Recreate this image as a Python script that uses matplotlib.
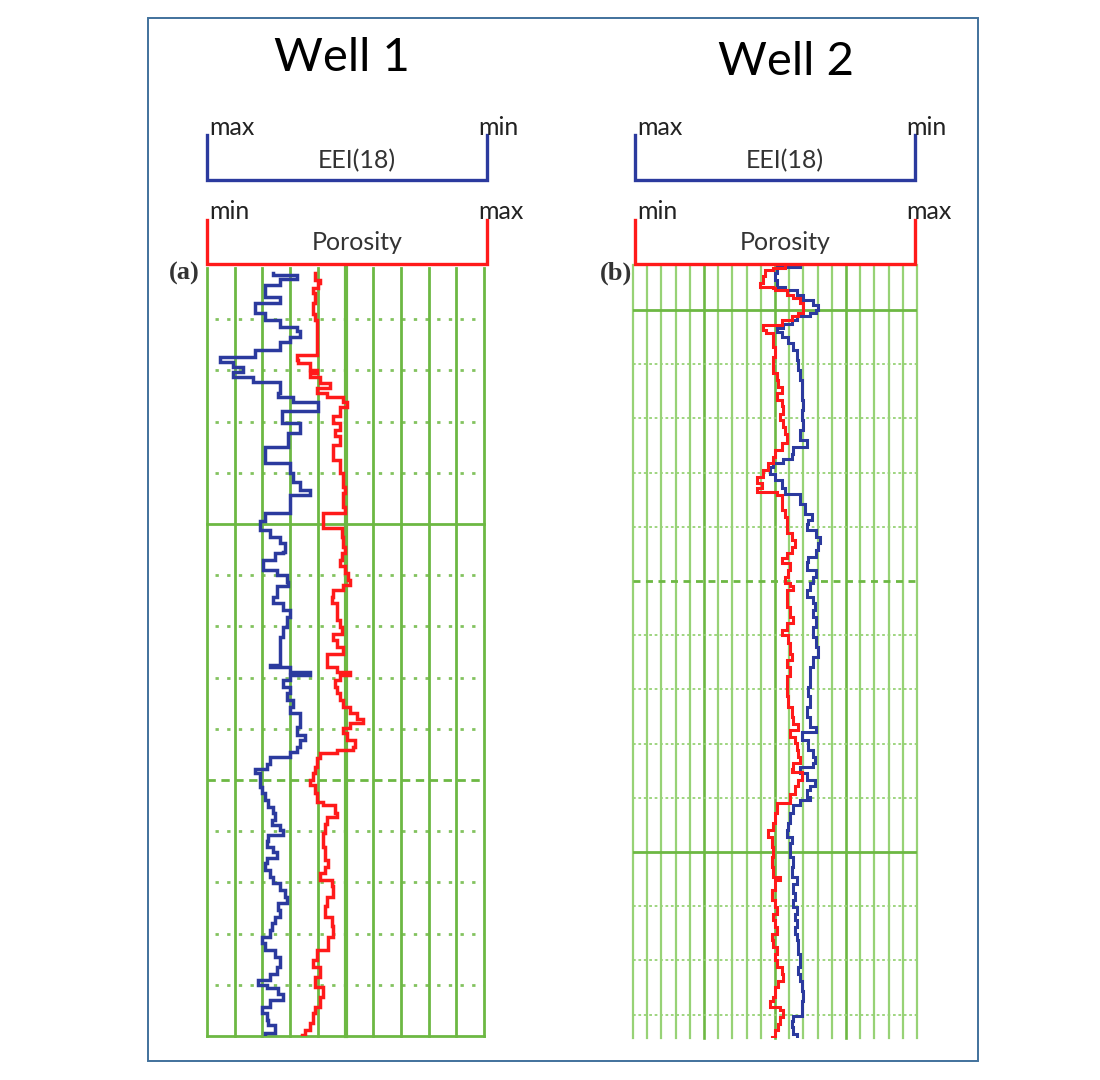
import matplotlib
matplotlib.use("Agg")
import matplotlib.pyplot as plt
from matplotlib.lines import Line2D
from matplotlib.patches import Rectangle

# ---------------- data (track units: value 0-100 across track, depth in grid units) ----------
well1_eei_depth = [0.9, 1.4, 2.1, 3.3, 5.6, 6.8, 8.8, 10.2, 11.5, 12.4, 13.4, 14.4, 16.0, 17.3, 18.3,
                   19.3, 20.3, 21.3, 22.2, 24.5, 25.1, 26.1, 28.0, 30.3, 32.3, 34.9, 38.1, 40.1, 41.7,
                   43.4, 44.3, 47.9, 49.5,
                   51.2, 52.5, 53.8, 55.4, 55.7, 57.0, 59.0, 60.0, 61.3, 62.2, 64.2, 65.5, 66.8, 68.1,
                   70.1, 72.0, 77.6, 77.9, 78.9, 79.5, 80.5, 81.8, 83.1, 84.4, 85.7, 87.0, 89.6, 91.2,
                   92.2, 93.5, 94.5, 95.5, 96.8, 97.8, 98.7, 101.3,
                   102.6, 103.9, 105.2, 106.5, 107.8, 108.8, 109.8, 110.7, 112.0, 113.0, 114.0, 115.3,
                   116.3, 117.6, 118.9, 120.2, 121.5, 122.8, 124.1, 125.4, 126.7, 128.0, 129.3, 130.6,
                   131.9, 133.2, 134.5, 136.5, 137.8, 139.1, 140.0, 140.7, 141.7, 143.0, 144.3, 145.6,
                   146.9, 147.9, 149.5]
well1_eei = [23.9, 32.4, 26.4, 20.9, 26.4, 17.3, 20.9, 26.4, 32.4, 33.6, 30.0, 26.4, 17.3, 4.7, 9.5,
             13.1, 9.5, 16.7, 26.4, 25.7, 31.2, 40.2, 27.0, 33.6, 29.4, 20.9, 30.0, 31.2, 33.6,
             37.2, 30.0, 20.9, 19.1,
             22.7, 26.4, 28.2, 27.6, 24.5, 20.3, 25.1, 28.8, 29.4, 25.1, 23.9, 27.6, 30.0, 28.8,
             27.6, 26.4, 22.7, 30.0, 37.2, 30.0, 27.6, 30.0, 28.8, 31.2, 30.0, 33.6, 32.4, 35.4,
             33.6, 32.4, 30.0, 22.7, 21.5, 17.3, 19.1, 19.7,
             20.9, 22.1, 23.9, 24.5, 23.3, 26.4, 27.6, 22.1, 21.5, 23.9, 25.1, 21.5,
             20.9, 22.7, 23.9, 26.4, 28.2, 28.8, 25.7, 26.4, 24.5, 23.3, 22.7, 19.7,
             20.9, 24.5, 26.4, 25.1, 22.7, 18.5, 21.5, 25.7, 27.6, 22.7, 19.7, 21.5,
             22.1, 24.5, 20.9]

well1_por_depth = [0.9, 2.3, 3.0, 4.0, 4.9, 6.9, 8.9, 10.2, 17.0, 18.0, 18.6, 19.9, 20.6, 21.2, 22.5,
                   23.5, 24.5, 25.1, 26.1, 27.1, 29.0, 30.3, 31.6, 32.9, 34.6, 37.5, 40.1, 42.7, 44.0,
                   46.6, 47.9,
                   50.7, 52.5, 54.4, 55.7, 57.0, 58.3, 59.6, 60.9, 61.9, 62.9, 64.2, 65.5, 68.8, 70.1,
                   71.4, 72.7, 74.0, 75.3, 77.9, 78.9, 79.5, 80.5, 81.8, 83.1, 84.4, 85.7, 87.0, 88.0,
                   88.9, 89.9, 90.9, 92.2, 93.5, 94.2, 94.8, 95.8, 97.4, 98.7, 100.0, 101.0,
                   102.6, 104.2, 104.9, 106.5, 107.2, 108.5, 110.4, 113.0, 115.6, 116.9, 118.2, 119.5,
                   120.8, 122.8, 124.7, 126.7, 128.6, 130.6, 133.2, 135.2, 136.5, 138.4, 140.4, 142.3,
                   144.3, 145.6, 147.5, 148.8, 149.8]
well1_por = [39.0, 40.8, 40.2, 38.4, 39.0, 38.4, 39.0, 39.6, 32.4, 33.0, 37.2, 39.6, 37.2, 40.8, 44.4,
             39.6, 43.2, 49.2, 50.4, 48.0, 45.6, 48.0, 46.2, 48.0, 45.6, 48.0, 49.2, 49.8, 49.2,
             49.8, 42.0,
             48.6, 49.2, 49.8, 48.6, 48.0, 49.8, 51.0, 51.6, 49.2, 45.6, 45.0, 46.8, 48.0, 48.6,
             45.6, 46.8, 49.2, 43.2, 46.8, 51.6, 48.0, 46.2, 46.8, 48.0, 49.2, 51.6, 54.0, 56.4,
             51.6, 49.2, 50.4, 53.4, 52.8, 46.8, 40.8, 39.6, 39.0, 38.4, 37.2, 39.0,
             39.6, 42.0, 46.2, 46.8, 43.2, 42.6, 42.0, 42.6, 43.8, 42.6, 40.8, 45.0,
             45.6, 43.2, 42.6, 45.0, 45.6, 43.8, 39.6, 38.4, 40.8, 39.0, 42.0, 40.8,
             39.0, 38.4, 37.2, 35.4, 34.2]

well2_eei_depth = [1.7, 2.0, 3.2, 4.5, 5.7, 6.3, 7.2, 8.2, 9.1, 10.0, 10.6, 11.2, 11.8, 12.5, 13.4,
                   14.0, 14.9, 16.1, 17.4, 19.2, 21.1, 23.0, 24.8, 26.6, 28.5, 30.3, 32.2, 34.0, 35.2,
                   36.5, 37.4, 38.3, 38.9, 40.2, 41.4, 42.9, 43.9, 45.7, 47.6, 48.8,
                   49.4, 50.6, 51.8, 53.0, 54.3, 55.5, 56.4, 57.9, 59.2, 60.4, 61.6, 62.9, 64.1, 65.3,
                   66.6, 68.4, 70.3, 72.1, 74.0, 75.8, 77.6, 79.5, 81.3, 83.2, 85.0, 86.9, 87.8, 89.3,
                   91.2, 92.4, 93.6, 94.3, 95.5, 96.7, 97.9,
                   98.6, 99.8, 100.4, 101.3, 102.8, 104.7, 105.9, 107.2, 108.4, 110.9, 112.7, 114.6,
                   115.8, 117.6, 118.9, 120.1, 121.4, 122.6, 123.8, 125.1, 126.3, 128.8, 131.2, 132.5,
                   133.7, 135.6, 137.4, 140.2, 141.1, 142.3, 143.6]
well2_eei = [58.8, 50.6, 50.0, 50.6, 53.5, 57.6, 59.9, 63.4, 65.1, 64.6, 62.2, 57.6, 55.9, 52.9, 50.6,
             52.3, 54.7, 56.5, 57.6, 58.2, 58.8, 59.4, 59.4, 59.9, 59.4, 59.9, 58.8, 61.1, 56.5,
             55.9, 52.9, 49.4, 48.2, 50.0, 52.3, 53.5, 58.8, 60.6, 62.9, 61.7,
             61.1, 64.6, 65.7, 65.1, 64.6, 61.7, 61.1, 64.6, 63.4, 62.2, 61.1, 63.4, 64.0, 63.4,
             64.6, 63.4, 64.6, 65.1, 63.4, 62.2, 62.2, 61.7, 62.2, 61.1, 62.2, 64.6, 59.4, 61.7,
             63.4, 64.0, 63.4, 58.8, 61.1, 64.0, 62.2,
             61.1, 62.2, 58.8, 56.5, 55.4, 54.7, 54.1, 55.9, 55.4, 56.5, 55.9, 57.6,
             56.5, 57.0, 56.5, 57.6, 57.0, 57.6, 57.0, 57.6, 58.2, 58.8, 58.2, 58.8,
             59.4, 59.9, 59.4, 56.5, 55.9, 56.5, 57.6]

well2_por_depth = [1.7, 2.3, 2.6, 3.8, 5.0, 5.7, 6.0, 6.3, 7.2, 7.8, 8.8, 10.6, 11.2, 11.8, 12.8,
                   13.7, 14.3, 16.8, 18.7, 21.7, 23.0, 24.2, 25.4, 26.6, 27.8, 29.1, 30.3, 31.5, 32.8,
                   34.6, 35.8, 37.1, 38.3, 39.5, 40.8, 42.0, 42.9, 43.5, 44.1, 46.9, 48.1,
                   49.9, 51.2, 52.4, 53.7, 54.9, 55.8, 56.7, 57.9, 59.2, 60.4, 61.0, 61.6, 64.7, 66.6,
                   67.8, 69.0, 69.9, 71.5, 73.4, 74.6, 75.8, 77.6, 81.3, 83.2, 85.0, 86.3, 87.5, 88.7,
                   89.9, 91.2, 92.4, 93.6, 94.6, 95.2, 96.7, 97.9, 99.2,
                   101.0, 102.8, 104.7, 105.9, 107.2, 109.0, 110.9, 112.7, 114.6, 115.2, 117.0, 118.9,
                   120.1, 121.4, 122.6, 123.8, 125.1, 126.3, 127.5, 128.8, 130.0, 131.2, 132.5, 133.7,
                   134.9, 136.8, 137.4, 138.6, 139.2, 140.5, 141.7, 142.9, 144.2]
well2_por = [53.5, 49.4, 46.5, 45.9, 44.7, 49.4, 50.0, 54.1, 56.5, 58.8, 59.9, 58.2, 55.9, 52.3, 45.9,
             47.0, 49.4, 50.0, 49.4, 50.6, 51.2, 52.3, 50.6, 52.3, 52.9, 51.8, 52.9, 53.5, 54.1,
             52.3, 50.0, 49.4, 47.6, 45.9, 43.5, 45.3, 43.5, 50.6, 52.3, 53.5, 54.1,
             54.1, 55.9, 57.0, 55.9, 54.1, 52.3, 55.4, 54.7, 53.5, 55.4, 56.5, 54.1, 55.4, 56.5,
             54.1, 52.3, 54.7, 55.4, 55.9, 54.1, 55.4, 54.1, 54.7, 55.9, 56.5, 58.2, 55.4, 57.0,
             57.6, 58.2, 58.8, 56.5, 55.9, 59.4, 58.2, 57.0, 55.4,
             50.6, 50.0, 49.4, 47.6, 48.8, 49.4, 48.8, 49.4, 51.8, 50.0, 48.8, 50.0,
             50.6, 49.4, 50.0, 50.6, 48.8, 49.4, 50.6, 50.0, 50.6, 52.3, 52.9, 51.2,
             50.0, 49.4, 48.2, 51.8, 52.9, 51.8, 51.2, 50.0, 48.8]

titles = ["Well 1", "Well 2"]
panel_labels = ["(a)", "(b)"]
eei_label = "EEI(18)"
por_label = "Porosity"

# ---------------- styling ----------------
W, H = 1100, 1080
BLUE = "#2b3a9e"
RED = "#ff1a1a"
GREEN = "#6db843"
GREEN_LIGHT = "#97d276"
FRAME = "#41719c"
FONT = ["Lato", "DejaVu Sans"]


def fx(x):
    return x / W


def fy(y):
    return 1 - y / H


def stairs(depth, vals, end):
    xs, ys = [], []
    for i, (d, v) in enumerate(zip(depth, vals)):
        nxt = depth[i + 1] if i + 1 < len(depth) else end
        xs += [v, v]
        ys += [d, nxt]
    return xs, ys


fig = plt.figure(figsize=(11, 10.8), dpi=100)
fig.patch.set_facecolor("white")

# outer frame
fig.add_artist(Rectangle((fx(148), fy(1061)), fx(978) - fx(148), fy(18) - fy(1061),
                         transform=fig.transFigure, fill=False, ec=FRAME, lw=1.4))

# ---------------- Well 1 track ----------------
l1, r1, t1, b1 = 207, 484, 268, 1036
ax1 = fig.add_axes([fx(l1), fy(b1), fx(r1) - fx(l1), fy(t1) - fy(b1)])
ax1.set_xlim(0, 100)
ax1.set_ylim(150, 0)
ax1.set_axis_off()
for v in range(0, 101, 10):
    ax1.axvline(v, color=GREEN, lw=3.0 if v == 50 else 2.0, zorder=1, clip_on=False)
for d in range(10, 151, 10):
    if d == 50 or d == 150:
        ax1.axhline(d, color=GREEN, lw=2.0, zorder=1, clip_on=False)
    elif d == 100:
        ax1.axhline(d, color=GREEN, lw=2.0, ls=(0, (3, 2)), zorder=1)
    else:
        ax1.plot([3, 100], [d, d], color=GREEN, lw=2.0, ls=(0, (1.2, 3.0)), zorder=1, alpha=0.85)
x, y = stairs(well1_eei_depth, well1_eei, 150)
ax1.plot(x, y, color=BLUE, lw=2.5, zorder=3, solid_joinstyle="miter")
x, y = stairs(well1_por_depth, well1_por, 150)
ax1.plot(x, y, color=RED, lw=2.5, zorder=3, solid_joinstyle="miter")

# ---------------- Well 2 track ----------------
l2, r2, t2, b2 = 633, 917, 265, 1038
ax2 = fig.add_axes([fx(l2), fy(b2), fx(r2) - fx(l2), fy(t2) - fy(b2)])
ax2.set_xlim(0, 100)
ax2.set_ylim(144.3, 1.7)
ax2.set_axis_off()
for v in range(0, 101, 5):
    heavy = v in (25, 50, 75)
    ax2.axvline(v, color=GREEN if heavy else GREEN_LIGHT, lw=1.9 if heavy else 1.6, zorder=1,
                clip_on=False)
for d in range(10, 141, 10):
    if d in (10, 110):
        ax2.axhline(d, color=GREEN, lw=2.0, zorder=1)
    elif d == 60:
        ax2.axhline(d, color=GREEN, lw=2.0, ls=(0, (2.5, 2)), zorder=1)
    else:
        ax2.axhline(d, color=GREEN_LIGHT, lw=1.3, ls=(0, (1.5, 1.5)), zorder=1)
x, y = stairs(well2_eei_depth, well2_eei, 144.3)
ax2.plot(x, y, color=BLUE, lw=2.2, zorder=3, solid_joinstyle="miter")
x, y = stairs(well2_por_depth, well2_por, 144.3)
ax2.plot(x, y, color=RED, lw=2.2, zorder=3, solid_joinstyle="miter")

# ---------------- headers ----------------
headers = [
    dict(left=207, right=487, title_x=342, title_y=58, lab=panel_labels[0], lab_x=184, title=titles[0]),
    dict(left=635, right=915, title_x=786, title_y=62, lab=panel_labels[1], lab_x=616, title=titles[1]),
]
for h in headers:
    L, R = h["left"], h["right"]
    fig.text(fx(h["title_x"]), fy(h["title_y"]), h["title"], ha="center", va="center",
             fontsize=34, family=FONT, color="black")
    # EEI bracket
    fig.add_artist(Line2D([fx(L), fx(L), fx(R), fx(R)], [fy(135), fy(180), fy(180), fy(135)],
                          transform=fig.transFigure, color=BLUE, lw=2.4,
                          solid_joinstyle="miter"))
    fig.text(fx(L + 2), fy(135), "max", ha="left", va="baseline", fontsize=18, family=FONT,
             color="#222222")
    fig.text(fx(R - 9), fy(135), "min", ha="left", va="baseline", fontsize=18, family=FONT,
             color="#222222")
    fig.text(fx((L + R) / 2 + 10), fy(168), eei_label, ha="center", va="baseline",
             fontsize=18, family=FONT, color="#333333")
    # Porosity bracket
    fig.add_artist(Line2D([fx(L), fx(L), fx(R), fx(R)], [fy(220), fy(264), fy(264), fy(220)],
                          transform=fig.transFigure, color=RED, lw=2.4,
                          solid_joinstyle="miter"))
    fig.text(fx(L + 2), fy(219), "min", ha="left", va="baseline", fontsize=18, family=FONT,
             color="#222222")
    fig.text(fx(R - 9), fy(219), "max", ha="left", va="baseline", fontsize=18, family=FONT,
             color="#222222")
    fig.text(fx((L + R) / 2 + 10), fy(250), por_label, ha="center", va="baseline",
             fontsize=18, family=FONT, color="#333333")
    fig.text(fx(h["lab_x"]), fy(273), h["lab"], ha="center", va="center", fontsize=19,
             fontweight="bold", family=["Liberation Serif", "DejaVu Serif"], color="#333333")

fig.savefig("out.png", dpi=100, facecolor="white")
